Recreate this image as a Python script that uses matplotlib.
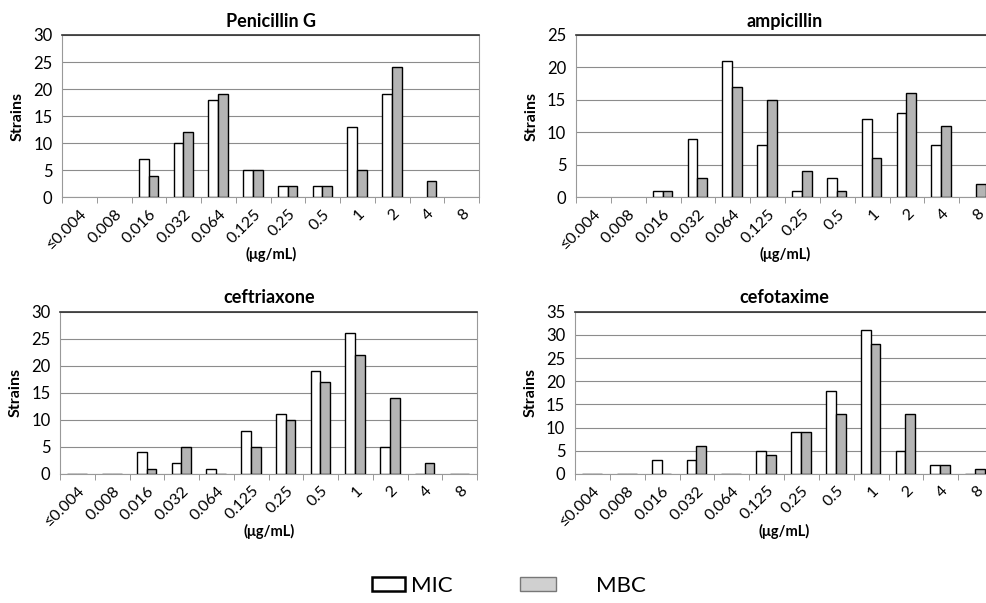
import numpy as np
import matplotlib.pyplot as plt
from matplotlib.patches import Patch

plt.rcParams['font.family'] = ['Lato', 'DejaVu Sans']

conc = ["≤0.004", "0.008", "0.016", "0.032", "0.064", "0.125",
        "0.25", "0.5", "1", "2", "4", "8"]

pen_mic = [0, 0, 7, 10, 18, 5, 2, 2, 13, 19, 0, 0]
pen_mbc = [0, 0, 4, 12, 19, 5, 2, 2, 5, 24, 3, 0]
amp_mic = [0, 0, 1, 9, 21, 8, 1, 3, 12, 13, 8, 0]
amp_mbc = [0, 0, 1, 3, 17, 15, 4, 1, 6, 16, 11, 2]
cro_mic = [0, 0, 4, 2, 1, 8, 11, 19, 26, 5, 0, 0]
cro_mbc = [0, 0, 1, 5, 0, 5, 10, 17, 22, 14, 2, 0]
ctx_mic = [0, 0, 3, 3, 0, 5, 9, 18, 31, 5, 2, 0]
ctx_mbc = [0, 0, 0, 6, 0, 4, 9, 13, 28, 13, 2, 1]

# title, MIC, MBC, y max, axes box, draw zero bars as flat outlines
panels = [
    ("Penicillin G", pen_mic, pen_mbc, 30, [0.063, 0.673, 0.4225, 0.269], False),
    ("ampicillin", amp_mic, amp_mbc, 25, [0.5836, 0.673, 0.4235, 0.269], False),
    ("ceftriaxone", cro_mic, cro_mbc, 30, [0.061, 0.214, 0.4225, 0.269], True),
    ("cefotaxime", ctx_mic, ctx_mbc, 35, [0.5826, 0.214, 0.4235, 0.269], True),
]

grey = "#b4b4b4"
fig = plt.figure(figsize=(9.87, 6.03), dpi=100)

for title, mic, mbc, ymax, pos, show_zero in panels:
    ax = fig.add_axes(pos)
    x = np.arange(len(conc))
    w = 0.28
    if show_zero:
        mic_h, mbc_h = mic, mbc
    else:
        mic_h = [v if v > 0 else np.nan for v in mic]
        mbc_h = [v if v > 0 else np.nan for v in mbc]
    ax.bar(x - w / 2 - 0.015, mic_h, w, color="white", edgecolor="black", linewidth=1, zorder=3)
    ax.bar(x + w / 2 - 0.015, mbc_h, w, color=grey, edgecolor="black", linewidth=1, zorder=3)
    ax.set_xlim(-0.5, len(conc) - 0.5)
    ax.set_ylim(0, ymax)
    ax.set_yticks(range(0, ymax + 1, 5))
    ax.yaxis.grid(True, color="#8c8c8c", linewidth=0.8, zorder=0)
    ax.set_xticks(x)
    ax.set_xticklabels(conc, rotation=45, ha="right", rotation_mode="anchor", fontsize=11.5)
    ax.set_xticks(np.arange(-0.5, len(conc)), minor=True)
    ax.tick_params(axis="x", which="major", length=0, pad=7)
    ax.tick_params(axis="x", which="minor", length=4, color="#888888")
    ax.tick_params(axis="y", length=0, labelsize=12, pad=7)
    for s in ax.spines.values():
        s.set_color("#999999")
        s.set_linewidth(0.8)
    ax.spines["top"].set_color("#333333")
    ax.spines["top"].set_linewidth(1.2)
    ax.set_title(title, fontsize=13, fontweight="bold", pad=6)
    ax.set_ylabel("Strains", fontsize=11.5, fontweight="bold", labelpad=6)
    ax.set_xlabel("(μg/mL)", fontsize=10.5, fontweight="bold", labelpad=-4)

mic_patch = Patch(facecolor="white", edgecolor="black", linewidth=1.8, label="MIC")
mbc_patch = Patch(facecolor="#d0d0d0", edgecolor="#777777", linewidth=1, label="MBC")
fig.legend(handles=[mic_patch], loc="center left", bbox_to_anchor=(0.377, 0.028),
           frameon=False, fontsize=16, handlelength=1.5, handleheight=0.6,
           handletextpad=0.25, borderpad=0, borderaxespad=0)
fig.legend(handles=[mbc_patch], loc="center left", bbox_to_anchor=(0.527, 0.028),
           frameon=False, fontsize=16, handlelength=1.6, handleheight=0.6,
           handletextpad=1.8, borderpad=0, borderaxespad=0)

fig.savefig("out.png", dpi=100)
